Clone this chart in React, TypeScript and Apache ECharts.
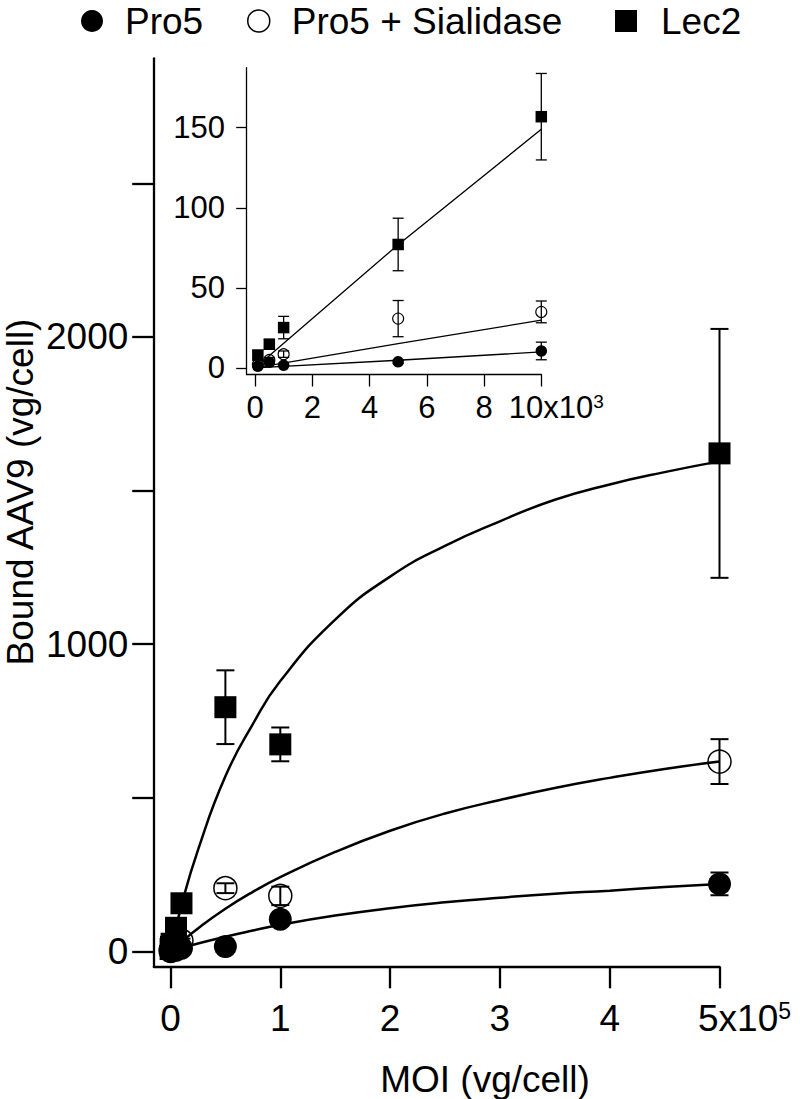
import React, { useEffect, useRef } from 'react';
import * as echarts from 'echarts';

// ---- data (MOI in vg/cell, bound AAV9 in vg/cell) ----
const moi = [100, 500, 1000, 5000, 10000, 50000, 100000, 500000];
const pro5 = [1.0, 3.5, 1.7, 3.8, 10.6, 16, 105, 220];
const pro5Err = [0.5, 0.8, 0.5, 1.0, 5.5, 8, 10, 37];
const sialidase = [2, 5, 8.6, 30.8, 35, 206, 181, 618];
const sialidaseErr = [1, 1.5, 2, 11.3, 6.8, 16, 30, 73];
const lec2 = [8, 14.8, 25.2, 77.1, 156.9, 795, 674, 1621];
const lec2Err = [3, 3, 7, 16.4, 27, 120, 55, 405];

// fitted curves
const fitMoi = [0, 10000, 25000, 50000, 75000, 100000, 150000, 200000, 250000, 300000, 350000, 400000, 450000, 500000];
const pro5Fit = [0, 11, 26, 48, 68, 87, 117, 141, 160, 175, 188, 198, 210, 220];
const sialidaseFit = [0, 31, 75, 139, 194, 242, 324, 393, 449, 493, 532, 565, 594, 618];
const lec2Fit = [0, 150, 330, 570, 740, 880, 1080, 1220, 1320, 1400, 1470, 1520, 1560, 1595];

const insetFitMoi = [0, 5000, 10000];
const pro5InsetFit = [0, 4.8, 10];
const sialidaseInsetFit = [0, 15.2, 29.8];
const lec2InsetFit = [0, 77, 149];

// ticks
const mainXTicks = [0, 100000, 200000, 300000, 400000, 500000];
const mainYTicks = [0, 500, 1000, 1500, 2000, 2500];
const mainYLabels = [0, 1000, 2000];
const insetXTicks = [0, 2000, 4000, 6000, 8000, 10000];
const insetXLabels = [0, 2000, 4000, 6000, 8000];
const insetXLastLabel = [10000];
const insetYTicks = [0, 50, 100, 150];
const insetMaxMoi = 10000;

const legendNames = ['Pro5', 'Pro5 + Sialidase', 'Lec2'];

const FONT = '"Liberation Sans", Arial, Helvetica, sans-serif';

function pairs(xs: number[], ys: number[]) {
  return xs.map((x, i) => [x, ys[i]]);
}

function errorSeries(name: string, xs: number[], ys: number[], errs: number[], idx: number, cap: number, lw: number) {
  return {
    type: 'custom',
    name: name + ' err',
    xAxisIndex: idx,
    yAxisIndex: idx,
    silent: true,
    z: 3,
    encode: { x: 0, y: [1, 2] },
    data: xs.map((x, i) => [x, ys[i] - errs[i], ys[i] + errs[i]]),
    renderItem: (_p: any, api: any) => {
      const lo = api.coord([api.value(0), api.value(1)]);
      const hi = api.coord([api.value(0), api.value(2)]);
      const style = { stroke: '#000', lineWidth: lw, fill: 'none' };
      return {
        type: 'group',
        children: [
          { type: 'line', shape: { x1: lo[0], y1: lo[1], x2: hi[0], y2: hi[1] }, style },
          { type: 'line', shape: { x1: lo[0] - cap, y1: lo[1], x2: lo[0] + cap, y2: lo[1] }, style },
          { type: 'line', shape: { x1: hi[0] - cap, y1: hi[1], x2: hi[0] + cap, y2: hi[1] }, style },
        ],
      };
    },
  };
}

function lineSeries(name: string, xs: number[], ys: number[], idx: number, width: number, smooth: boolean) {
  return {
    type: 'line',
    name: name + ' fit',
    xAxisIndex: idx,
    yAxisIndex: idx,
    data: pairs(xs, ys),
    symbol: 'none',
    showSymbol: false,
    smooth,
    silent: true,
    z: 2,
    lineStyle: { color: '#000', width, opacity: 1 },
  };
}

const filled = { color: '#000', opacity: 1 };
const open = { color: 'rgba(0,0,0,0)', borderColor: '#000', borderWidth: 1.5, opacity: 1 };
const openInset = { color: 'rgba(0,0,0,0)', borderColor: '#000', borderWidth: 1.1, opacity: 1 };

function scatter(name: string, xs: number[], ys: number[], idx: number, symbol: string, size: number, itemStyle: any) {
  return {
    type: 'scatter',
    name,
    xAxisIndex: idx,
    yAxisIndex: idx,
    data: pairs(xs, ys),
    symbol,
    symbolSize: size,
    itemStyle,
    z: 4,
    silent: true,
  };
}

function inset(arr: number[]) {
  return arr.filter((_, i) => moi[i] <= insetMaxMoi);
}
const insetMoi = moi.filter((m) => m <= insetMaxMoi);

const axisLineMain = { show: true, onZero: false, lineStyle: { color: '#000', width: 2.3 } };
const axisLineInset = { show: true, onZero: false, lineStyle: { color: '#000', width: 1.3 } };

function buildOption() {
  const legendBase = {
    top: 2,
    padding: 0,
    itemWidth: 22,
    itemHeight: 22,
    selectedMode: false,
    formatter: (name: string) => '{p| }' + name,
    textStyle: { fontSize: 37, lineHeight: 38, fontFamily: FONT, color: '#000', rich: { p: { width: 17 } } },
  };
  const insetLabelBase = {
    showMinLabel: true,
    showMaxLabel: true,
    fontSize: 31,
    fontFamily: FONT,
    color: '#000',
    margin: 17,
  };
  return {
    animation: false,
    backgroundColor: '#fff',
    legend: [
      { ...legendBase, data: [legendNames[0]], left: 81 },
      {
        ...legendBase,
        data: [legendNames[1]],
        left: 247,
        itemStyle: { color: '#fff', borderColor: '#000', borderWidth: 1.5 },
      },
      {
        ...legendBase,
        data: [legendNames[2]],
        left: 615,
        textStyle: { fontSize: 37, lineHeight: 38, fontFamily: FONT, color: '#000', rich: { p: { width: 19 } } },
      },
    ],
    grid: [
      { left: 153.8, top: 58.3, width: 565.7, height: 908.4 },
      { left: 246.7, top: 67.7, width: 294.6, height: 306.8 },
    ],
    xAxis: [
      {
        type: 'value',
        gridIndex: 0,
        position: 'bottom',
        min: -15200,
        max: 500000,
        axisLine: axisLineMain,
        axisTick: { show: true, length: 21.6, customValues: mainXTicks, lineStyle: { color: '#000', width: 2.3 } },
        axisLabel: {
          customValues: mainXTicks,
          showMinLabel: true,
          showMaxLabel: true,
          fontSize: 37,
          fontFamily: FONT,
          color: '#000',
          margin: 33,
          formatter: (v: number) => (v === 500000 ? '{pad| }5x10{sup|5}' : String(v / 100000)),
          rich: {
            pad: { width: 50 },
            sup: { fontSize: 23, fontFamily: FONT, color: '#000', verticalAlign: 'top' },
          },
        },
        splitLine: { show: false },
      },
      {
        type: 'value',
        gridIndex: 1,
        position: 'bottom',
        min: -290,
        max: 10000,
        axisLine: axisLineInset,
        axisTick: { show: true, length: 12, customValues: insetXTicks, lineStyle: { color: '#000', width: 1.3 } },
        axisLabel: {
          ...insetLabelBase,
          customValues: insetXLabels,
          formatter: (v: number) => String(v / 1000),
        },
        splitLine: { show: false },
      },
      {
        // carries only the last inset label ("10x10³"), so it never hides its neighbour
        type: 'value',
        gridIndex: 1,
        position: 'bottom',
        offset: 0,
        min: -290,
        max: 10000,
        axisLine: { show: false, onZero: false },
        axisTick: { show: false },
        axisLabel: {
          ...insetLabelBase,
          customValues: insetXLastLabel,
          formatter: () => '{pad| }10x10{sup|3}',
          rich: {
            pad: { width: 30 },
            sup: { fontSize: 19, fontFamily: FONT, color: '#000', verticalAlign: 'top' },
          },
        },
        splitLine: { show: false },
      },
    ],
    yAxis: [
      {
        type: 'value',
        gridIndex: 0,
        min: -49.5,
        max: 2906.7,
        axisLine: axisLineMain,
        axisTick: { show: true, length: 21.6, customValues: mainYTicks, lineStyle: { color: '#000', width: 2.3 } },
        axisLabel: {
          customValues: mainYLabels,
          showMinLabel: true,
          fontSize: 37,
          fontFamily: FONT,
          color: '#000',
          margin: 25.5,
          formatter: (v: number) => String(v),
        },
        splitLine: { show: false },
      },
      {
        type: 'value',
        gridIndex: 1,
        min: -4.1,
        max: 187.5,
        axisLine: axisLineInset,
        axisTick: { show: true, length: 10.5, customValues: insetYTicks, lineStyle: { color: '#000', width: 1.3 } },
        axisLabel: {
          customValues: insetYTicks,
          showMinLabel: true,
          fontSize: 31,
          fontFamily: FONT,
          color: '#000',
          margin: 21.7,
          formatter: (v: number) => String(v),
        },
        splitLine: { show: false },
      },
    ],
    graphic: [
      {
        type: 'text',
        x: 20,
        y: 492,
        rotation: Math.PI / 2,
        style: {
          text: 'Bound AAV9 (vg/cell)',
          fontSize: 37,
          lineHeight: 37,
          fontFamily: FONT,
          fill: '#000',
          align: 'center',
          verticalAlign: 'middle',
        },
      },
      {
        type: 'text',
        x: 485,
        y: 1079,
        style: {
          text: 'MOI (vg/cell)',
          fontSize: 37,
          lineHeight: 37,
          fontFamily: FONT,
          fill: '#000',
          align: 'center',
          verticalAlign: 'middle',
        },
      },
    ],
    series: [
      // main chart markers
      scatter(legendNames[0], moi, pro5, 0, 'circle', 23, filled),
      scatter(legendNames[1], moi, sialidase, 0, 'circle', 23, open),
      scatter(legendNames[2], moi, lec2, 0, 'rect', 22, filled),
      // inset markers
      scatter(legendNames[0], insetMoi, inset(pro5), 1, 'circle', 11.5, filled),
      scatter(legendNames[1], insetMoi, inset(sialidase), 1, 'circle', 11, openInset),
      scatter(legendNames[2], insetMoi, inset(lec2), 1, 'rect', 11.5, filled),
      // fits
      lineSeries(legendNames[0], fitMoi, pro5Fit, 0, 2.5, true),
      lineSeries(legendNames[1], fitMoi, sialidaseFit, 0, 2.5, true),
      lineSeries(legendNames[2], fitMoi, lec2Fit, 0, 2.5, true),
      lineSeries(legendNames[0], insetFitMoi, pro5InsetFit, 1, 1.3, false),
      lineSeries(legendNames[1], insetFitMoi, sialidaseInsetFit, 1, 1.3, false),
      lineSeries(legendNames[2], insetFitMoi, lec2InsetFit, 1, 1.3, false),
      // error bars
      errorSeries(legendNames[0], moi, pro5, pro5Err, 0, 9, 2),
      errorSeries(legendNames[1], moi, sialidase, sialidaseErr, 0, 9, 2),
      errorSeries(legendNames[2], moi, lec2, lec2Err, 0, 9, 2),
      errorSeries(legendNames[0], insetMoi, inset(pro5), inset(pro5Err), 1, 5.5, 1.3),
      errorSeries(legendNames[1], insetMoi, inset(sialidase), inset(sialidaseErr), 1, 5.5, 1.3),
      errorSeries(legendNames[2], insetMoi, inset(lec2), inset(lec2Err), 1, 5.5, 1.3),
    ],
  };
}

export default function App() {
  const ref = useRef<HTMLDivElement>(null);
  useEffect(() => {
    if (!ref.current) return;
    const chart = echarts.init(ref.current, null, { renderer: 'svg' });
    chart.setOption(buildOption() as any);
    return () => chart.dispose();
  }, []);
  return (
    <div
      ref={ref}
      style={{ position: 'absolute', left: 0, top: 0, width: 800, height: 1099, background: '#fff' }}
    />
  );
}
